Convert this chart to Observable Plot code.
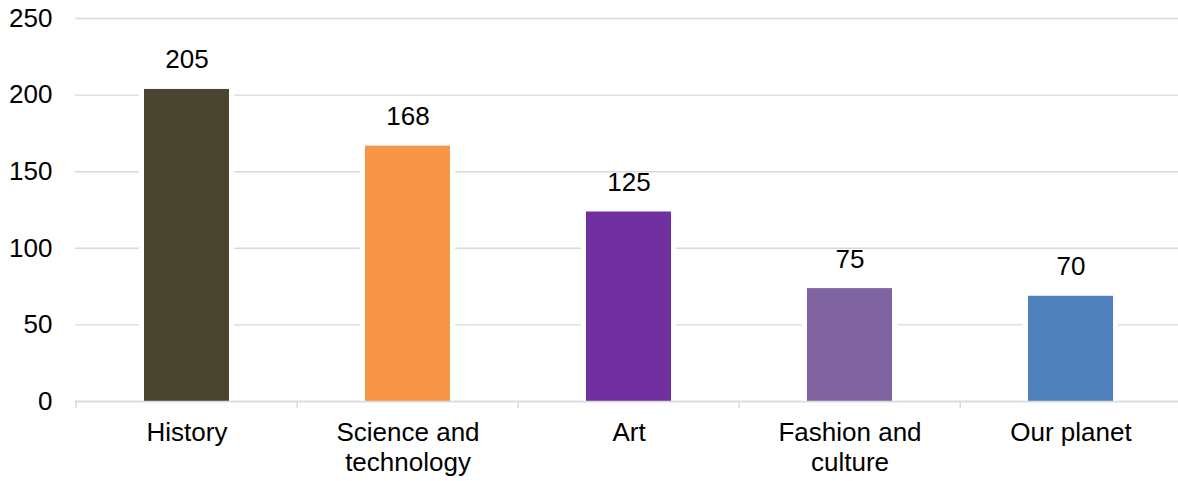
<!DOCTYPE html>
<html>
<head>
<meta charset="utf-8">
<script src="https://cdn.jsdelivr.net/npm/d3@7"></script>
<script src="https://cdn.jsdelivr.net/npm/@observablehq/plot@0.6"></script>
<style>
  html, body { margin: 0; padding: 0; background: #fff; overflow: hidden; }
  #chart svg { overflow: hidden; }
</style>
</head>
<body>
<div id="chart"></div>
<script>
const categories = ["History", "Science and technology", "Art", "Fashion and culture", "Our planet"];
const tickLabels = ["History", "Science and\ntechnology", "Art", "Fashion and\nculture", "Our planet"];
const values = [205, 168, 125, 75, 70];
const colors = ["#4a4530", "#f79646", "#7030a0", "#8064a2", "#4f81bd"];
const yTicks = [0, 50, 100, 150, 200, 250];

const data = categories.map((c, i) => ({category: c, label: tickLabels[i], value: values[i], color: colors[i]}));

const xRange = [74, 1182];
const step = (xRange[1] - xRange[0]) / categories.length;
const font = "'Liberation Sans', Arial, sans-serif";

const chart = Plot.plot({
  width: 1178,
  height: 481,
  marginLeft: 75, marginRight: 0, marginTop: 0, marginBottom: 0,
  style: {fontFamily: font, fontSize: "26px", color: "#000", background: "#fff"},
  x: {domain: categories, range: xRange, paddingInner: 0.616, paddingOuter: 0.308, axis: null},
  y: {domain: [0, 250], range: [401, 18], axis: null},
  marks: [
    Plot.ruleY(yTicks, {stroke: "#d9d9d9", strokeWidth: 1.4}),
    Plot.barY(data, {x: "category", y: "value", fill: "#fff", insetLeft: -5, insetRight: -5, insetTop: 2}),
    Plot.barY(data, {x: "category", y: "value", fill: "color", insetTop: 2}),
    Plot.ruleY([0], {stroke: "#d9d9d9", strokeWidth: 1.4}),
    Plot.ruleX(categories, {x: d => d, y1: 0, y2: -4.6, dx: -step / 2, stroke: "#d9d9d9", strokeWidth: 1.4}),
    Plot.text(data, {x: "category", y: "value", text: d => String(d.value), dy: -19, lineAnchor: "bottom", fontSize: 26, fill: "#000"}),
    Plot.text(data, {x: "category", y: 0, text: "label", dy: 18, lineAnchor: "top", lineHeight: 1.15, fontSize: 26, fill: "#000"}),
    Plot.text(yTicks, {y: d => d, text: d => String(d), frameAnchor: "left", dx: -23, textAnchor: "end", fontSize: 26, fill: "#000"})
  ]
});
document.getElementById("chart").appendChild(chart);
</script>
</body>
</html>
